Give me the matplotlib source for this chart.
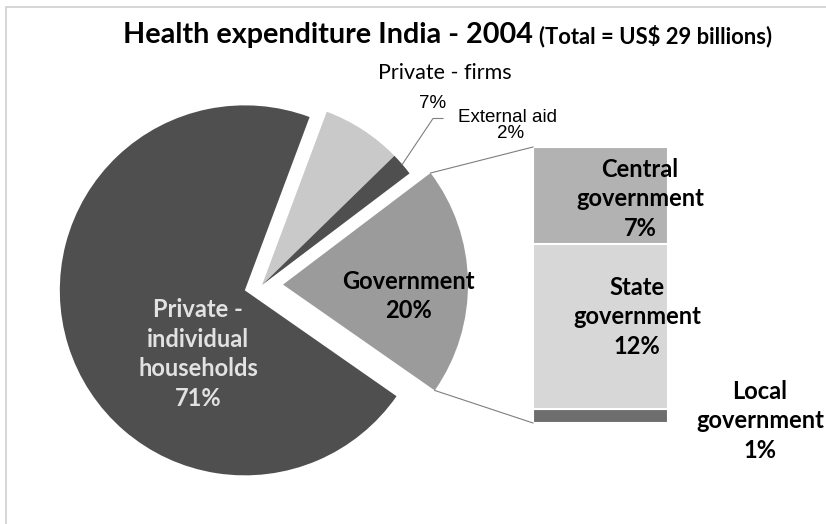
import numpy as np
import matplotlib.pyplot as plt
from matplotlib.patches import Rectangle

W, H = 826, 524

# main pie, clockwise from the top edge of the households slice
pie_labels = ["Private - firms", "External aid", "Government", "Private - individual households"]
pie_values = [7, 2, 20, 71]
pie_colors = ["#c9c9c9", "#4f4f4f", "#9b9b9b", "#4f4f4f"]

# government split, bottom to top of the bar
gov_labels = ["Local\ngovernment", "State\ngovernment", "Central\ngovernment"]
gov_values = [1, 12, 7]
gov_colors = ["#6e6e6e", "#d7d7d7", "#b2b2b2"]


def py(y):
    # pixel row (from the top) -> data y
    return H - y


def main():
    fig = plt.figure(figsize=(W / 100, H / 100), dpi=100)
    ax = fig.add_axes([0, 0, 1, 1])

    cx, cy, r = 262, 285, 185
    # explode is in data units here (pixels)
    wedges, _ = ax.pie(pie_values, colors=pie_colors, startangle=69.5,
                       counterclock=False, radius=r, center=(cx, py(cy)),
                       explode=[0, 0, 21, 18],
                       wedgeprops=dict(linewidth=0))

    # bar of the government slice
    bx, bw, by = 600.5, 135, 423
    scale = 276 / sum(gov_values)
    bottom = py(by)
    for v, c in zip(gov_values, gov_colors):
        ax.bar(bx, v * scale, bottom=bottom, width=bw, color=c,
               edgecolor="white", linewidth=1.5)
        bottom += v * scale

    # connector lines from the government wedge to the bar
    gw = wedges[2]
    gcx, gcy = gw.center
    for ang, ytop in [(gw.theta2, bottom), (gw.theta1, py(by))]:
        x0 = gcx + gw.r * np.cos(np.radians(ang))
        y0 = gcy + gw.r * np.sin(np.radians(ang))
        ax.plot([x0, bx - bw / 2], [y0, ytop], color="#7f7f7f", lw=0.8)

    # leader for external aid
    aw = wedges[1]
    am = np.radians((aw.theta1 + aw.theta2) / 2)
    ax0 = aw.center[0] + aw.r * np.cos(am)
    ay0 = aw.center[1] + aw.r * np.sin(am)
    ax.plot([ax0, 433, 443], [ay0, py(118.5), py(118.5)], color="#7f7f7f", lw=0.8)

    # frame
    ax.add_patch(Rectangle((6, py(540)), 840, 533, fill=False,
                           edgecolor="#d0d0d0", lw=1.2))

    bold = dict(family="Lato", weight="bold", ha="center", va="center",
                linespacing=1.36)
    ax.text(123, py(43), "Health expenditure India - 2004", family="Lato",
            weight="bold", fontsize=20.7, ha="left", va="baseline")
    ax.text(539, py(43), "(Total = US$ 29 billions)", family="Lato",
            weight="bold", fontsize=15.8, ha="left", va="baseline")

    ax.text(445, py(73), "Private - firms", family="Lato", fontsize=15.5,
            ha="center", va="center")
    narrow = ["Liberation Sans Narrow", "Liberation Sans"]
    ax.text(433, py(103), "7%", family=narrow, fontsize=13.5, ha="center", va="center")
    ax.text(507, py(117), "External aid", family=narrow, fontsize=13.5, ha="center", va="center")
    ax.text(511, py(134), "2%", family=narrow, fontsize=13.5, ha="center", va="center")

    ax.text(198, py(354), "Private -\nindividual\nhouseholds\n71%",
            color="#e2e2e2", fontsize=17, **bold)
    ax.text(408, py(296), "Government\n%d%%" % pie_values[2], fontsize=17, **bold)

    gov_pos = [(760, 421), (637, 317), (640, 199)]
    for lab, v, (tx, ty) in zip(gov_labels, gov_values, gov_pos):
        ax.text(tx, py(ty), "%s\n%d%%" % (lab, v), fontsize=17, **bold)

    ax.set_xlim(0, W)
    ax.set_ylim(0, H)
    ax.set_aspect("equal")
    ax.axis("off")
    fig.savefig("out.png", dpi=100)


if __name__ == "__main__":
    main()
